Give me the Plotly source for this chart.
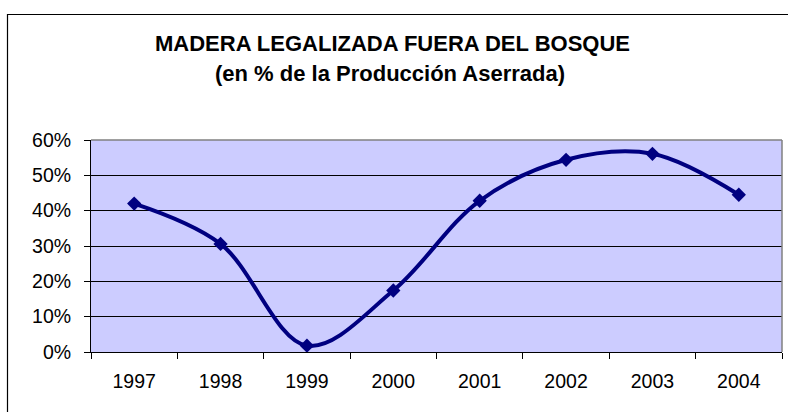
import plotly.graph_objects as go

years = ["1997", "1998", "1999", "2000", "2001", "2002", "2003", "2004"]
values = [0.42, 0.306, 0.018, 0.174, 0.428, 0.544, 0.561, 0.445]
title_line1 = "MADERA LEGALIZADA FUERA DEL BOSQUE"
title_line2 = "(en % de la Producción Aserrada)"

FONT = "Liberation Sans, Arial, sans-serif"

fig = go.Figure()
fig.add_trace(go.Scatter(
    x=years, y=values, mode="lines+markers",
    line=dict(color="#000080", width=4, shape="spline", smoothing=1),
    marker=dict(symbol="diamond", size=11, color="#000080"),
    showlegend=False, cliponaxis=False,
))

L, R, T, B = 91, 6, 140, 60
W, H = 788, 412
pw, ph = W - L - R, H - T - B

def px_x(px):
    return (px - L) / pw

def px_y(py):
    return (H - B - py) / ph

fig.update_layout(
    width=W, height=H,
    margin=dict(l=L, r=R, t=T, b=B, pad=0),
    paper_bgcolor="white",
    plot_bgcolor="#CCCCFF",
    font=dict(family=FONT, size=19.5, color="black"),
    xaxis=dict(
        type="category", range=[-0.5, 7.5], tickson="boundaries",
        ticks="outside", ticklen=6, tickcolor="black", tickwidth=1,
        showline=True, linecolor="black", linewidth=1,
        showgrid=False, ticklabelstandoff=12, zeroline=False,
    ),
    yaxis=dict(
        range=[0, 0.6], dtick=0.1, tickformat=".0%",
        ticks="outside", ticklen=6, tickcolor="black", tickwidth=1,
        showline=True, linecolor="black", linewidth=1,
        showgrid=True, gridcolor="black", gridwidth=1,
        zeroline=False, ticklabelstandoff=9,
    ),
    annotations=[
        dict(text="<b>" + title_line1 + "</b>", xref="paper", yref="paper",
             x=px_x(392), y=px_y(43), xanchor="center", yanchor="middle",
             showarrow=False, font=dict(family=FONT, size=22, color="black")),
        dict(text="<b>" + title_line2 + "</b>", xref="paper", yref="paper",
             x=px_x(390), y=px_y(74), xanchor="center", yanchor="middle",
             showarrow=False, font=dict(family=FONT, size=22, color="black")),
    ],
    shapes=[
        dict(type="line", xref="paper", yref="paper", x0=0, x1=1, y0=1, y1=1,
             line=dict(color="#808080", width=1.5), layer="above"),
        dict(type="line", xref="paper", yref="paper", x0=1, x1=1, y0=0, y1=1,
             line=dict(color="#808080", width=1.5), layer="above"),
        dict(type="rect", xref="paper", yref="paper",
             x0=px_x(7.5), x1=px_x(792), y0=px_y(416), y1=px_y(14.5),
             line=dict(color="black", width=1.2), fillcolor="rgba(0,0,0,0)",
             layer="above"),
    ],
)

fig.write_html(
    "out.html",
    config={"displayModeBar": False},
    post_script="document.body.style.margin='0';document.body.style.overflow='hidden';",
)
